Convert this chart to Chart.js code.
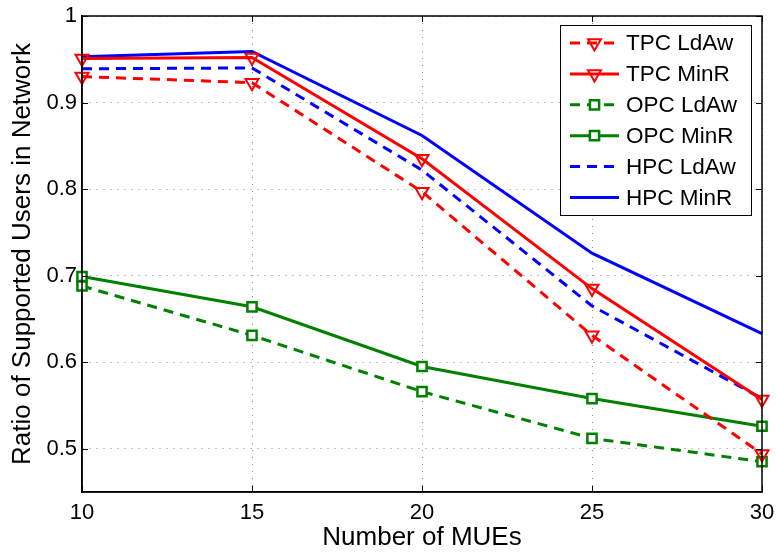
<!DOCTYPE html>
<html>
<head>
<meta charset="utf-8">
<script src="https://cdn.jsdelivr.net/npm/chart.js@4/dist/chart.umd.min.js"></script>
<style>
  html, body { margin: 0; padding: 0; background: #fff; }
  canvas { display: block; }
</style>
</head>
<body>
<canvas id="chart" width="776" height="553"></canvas>
<script>
// data
const mues = [10, 15, 20, 25, 30];
const yTicks = [0.5, 0.6, 0.7, 0.8, 0.9, 1];

const tpcLdAw = [0.930, 0.923, 0.797, 0.631, 0.494];
const tpcMinR = [0.951, 0.952, 0.835, 0.685, 0.557];
const opcLdAw = [0.688, 0.631, 0.566, 0.512, 0.485];
const opcMinR = [0.699, 0.664, 0.595, 0.558, 0.526];
const hpcLdAw = [0.939, 0.940, 0.822, 0.665, 0.558];
const hpcMinR = [0.953, 0.959, 0.862, 0.726, 0.633];

const FONT = "'Liberation Sans', Arial, sans-serif";
const RED = '#ff0000', GREEN = '#008000', BLUE = '#0000ff';
const DASH = [10, 7];

const pts = arr => arr.map((v, i) => ({ x: mues[i], y: v }));

function series(label, values, color, dashed, marker) {
    const ds = {
        label: label,
        data: pts(values),
        borderColor: color,
        borderWidth: 3,
        borderDash: dashed ? DASH : [],
        fill: false,
        tension: 0,
        clip: false,
        pointRadius: 0
    };
    if (marker === 'tri') {
        Object.assign(ds, { pointStyle: 'triangle', pointRotation: 180, pointRadius: 7.5,
            pointBorderWidth: 2, pointBackgroundColor: 'rgba(255,255,255,0)', pointBorderColor: color });
    } else if (marker === 'sq') {
        Object.assign(ds, { pointStyle: 'rect', pointRadius: 6.5,
            pointBorderWidth: 2.5, pointBackgroundColor: '#fff', pointBorderColor: color });
    }
    return ds;
}

// box around the axes, inward ticks, legend box in the top right corner
const frameAndLegend = {
    id: 'frameAndLegend',
    afterDraw(chart) {
        const { ctx, chartArea: a, scales } = chart;
        ctx.save();
        ctx.strokeStyle = '#000';
        ctx.lineWidth = 1.5;
        ctx.setLineDash([]);
        ctx.strokeRect(a.left, a.top, a.right - a.left, a.bottom - a.top);

        const t = 6;
        ctx.lineWidth = 1;
        ctx.beginPath();
        mues.forEach(v => {
            const x = Math.round(scales.x.getPixelForValue(v)) + 0.5;
            ctx.moveTo(x, a.bottom); ctx.lineTo(x, a.bottom - t);
            ctx.moveTo(x, a.top); ctx.lineTo(x, a.top + t);
        });
        yTicks.forEach(v => {
            const y = Math.round(scales.y.getPixelForValue(v)) + 0.5;
            ctx.moveTo(a.left, y); ctx.lineTo(a.left + t, y);
            ctx.moveTo(a.right, y); ctx.lineTo(a.right - t, y);
        });
        ctx.stroke();

        const w = 191, h = 190;
        const bx = a.right - 11 - w, by = a.top + 9;
        ctx.fillStyle = '#fff';
        ctx.fillRect(bx, by, w, h);
        ctx.lineWidth = 1;
        ctx.strokeRect(bx + 0.5, by + 0.5, w, h);

        ctx.font = '22.5px ' + FONT;
        ctx.textBaseline = 'middle';
        chart.data.datasets.forEach((ds, i) => {
            const y = by + 18 + i * 30.9;
            const x0 = bx + 10, x1 = bx + 59;
            ctx.strokeStyle = ds.borderColor;
            ctx.lineWidth = ds.borderWidth;
            ctx.setLineDash(ds.borderDash);
            ctx.beginPath();
            ctx.moveTo(x0, y);
            ctx.lineTo(x1, y);
            ctx.stroke();
            ctx.setLineDash([]);
            if (ds.pointRadius > 0) {
                ctx.fillStyle = ds.pointBackgroundColor;
                ctx.strokeStyle = ds.pointBorderColor;
                ctx.lineWidth = ds.pointBorderWidth;
                Chart.helpers.drawPoint(ctx, {
                    pointStyle: ds.pointStyle, rotation: ds.pointRotation || 0,
                    radius: ds.pointRadius, borderWidth: ds.pointBorderWidth
                }, (x0 + x1) / 2, y);
            }
            ctx.fillStyle = '#000';
            ctx.fillText(ds.label, bx + 66, y + 1);
        });
        ctx.restore();
    }
};

new Chart(document.getElementById('chart'), {
    type: 'line',
    data: {
        datasets: [
            series('TPC LdAw', tpcLdAw, RED, true, 'tri'),
            series('TPC MinR', tpcMinR, RED, false, 'tri'),
            series('OPC LdAw', opcLdAw, GREEN, true, 'sq'),
            series('OPC MinR', opcMinR, GREEN, false, 'sq'),
            series('HPC LdAw', hpcLdAw, BLUE, true, null),
            series('HPC MinR', hpcMinR, BLUE, false, null)
        ]
    },
    options: {
        responsive: false,
        animation: false,
        devicePixelRatio: 1,
        layout: { padding: { left: 0, right: 14, top: 16, bottom: 0 } },
        plugins: { legend: { display: false }, tooltip: { enabled: false } },
        scales: {
            x: {
                type: 'linear',
                min: 10, max: 30,
                afterBuildTicks: s => { s.ticks = mues.map(v => ({ value: v })); },
                afterFit: s => { s.height = 61; s.paddingLeft = 0; s.paddingRight = 0; },
                grid: { color: '#8a8a8a', lineWidth: 1, drawTicks: false },
                border: { color: '#000', width: 1.5, dash: [1, 6] },
                ticks: { color: '#000', padding: 8, font: { family: FONT, size: 22 }, maxRotation: 0 },
                title: { display: true, text: 'Number of MUEs', color: '#000',
                         font: { family: FONT, size: 26 }, padding: { top: 0, bottom: 0 } }
            },
            y: {
                min: 0.45, max: 1,
                afterBuildTicks: s => { s.ticks = yTicks.map(v => ({ value: v })); },
                afterFit: s => { s.width = 82; s.paddingTop = 0; s.paddingBottom = 0; },
                grid: { color: '#8a8a8a', lineWidth: 1, drawTicks: false },
                border: { color: '#000', width: 1.5, dash: [1, 6] },
                ticks: { color: '#000', padding: 5, font: { family: FONT, size: 22 },
                         callback: v => (v === 1 ? '1' : v.toFixed(1)) },
                title: { display: true, text: 'Ratio of Supported Users in Network', color: '#000',
                         font: { family: FONT, size: 26 }, padding: { top: 7, bottom: 0 } }
            }
        }
    },
    plugins: [frameAndLegend]
});
</script>
</body>
</html>
